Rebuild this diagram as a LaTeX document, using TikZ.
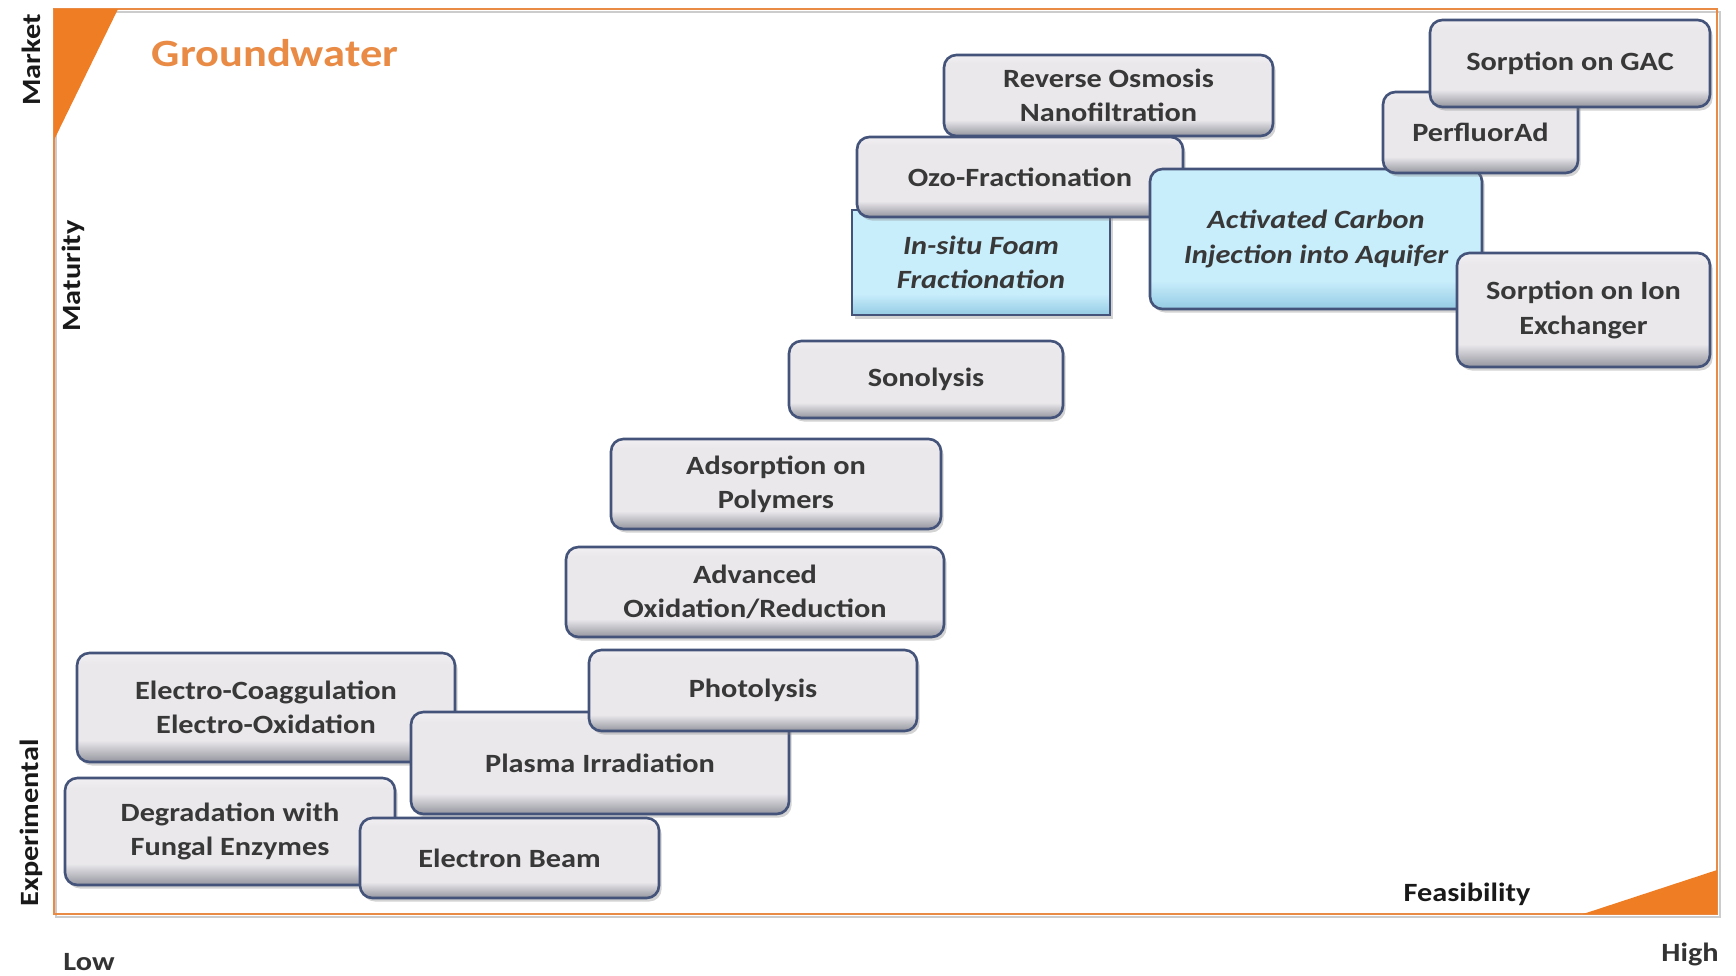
\documentclass[tikz,border=0pt]{standalone}
\usepackage{fontspec}
\setmainfont{Carlito}[FakeStretch=1.15]
\usetikzlibrary{shadows}

\definecolor{boxtop}{HTML}{EAE8EB}
\definecolor{boxbot}{HTML}{94959F}
\definecolor{boxhi}{HTML}{F1EFF1}
\definecolor{wettop}{HTML}{C8EDFB}
\definecolor{wetbot}{HTML}{94CBE4}
\definecolor{rim}{HTML}{44537A}
\definecolor{ink}{HTML}{383838}
\definecolor{frameorange}{HTML}{E98A45}
\definecolor{cornerorange}{HTML}{EE7D24}

\pgfdeclareverticalshading{techshade}{100bp}{color(0bp)=(boxbot); color(25bp)=(boxbot);
  color(35bp)=(boxtop); color(70bp)=(boxtop); color(75bp)=(boxhi); color(100bp)=(boxhi)}
\pgfdeclareverticalshading{wetshade}{100bp}{color(0bp)=(wetbot); color(25bp)=(wetbot);
  color(35bp)=(wettop); color(100bp)=(wettop)}

\begin{document}
\begin{tikzpicture}[x=0.02cm, y=-0.02cm,
    axislabel/.style={font=\fontsize{15}{18}\selectfont\bfseries, text=black!90},
    tech/.style={draw=rim, line width=1.5pt, rounded corners=7pt, shade, shading=techshade,
      drop shadow={shadow xshift=1.5pt, shadow yshift=-2pt, opacity=.35},
      align=center, text=ink, font=\fontsize{15}{19.5}\selectfont\bfseries},
    wet/.style={tech, shading=wetshade, font=\fontsize{15}{19.5}\selectfont\bfseries\itshape}]

  \useasboundingbox (0,0) rectangle (1736,975);

  % frame and corner marks
  \draw[black!20, line width=1.6pt] (56,12) rectangle (1720,917);
  \draw[frameorange, line width=1.6pt] (54,9) rectangle (1717,914);
  \fill[cornerorange] (54,9) -- (118,9) -- (54,140) -- cycle;
  \fill[cornerorange] (1583,914) -- (1717,914) -- (1717,870) -- cycle;

  % axis texts
  \begin{scope}[every node/.style={axislabel}]
    \node[rotate=90] (market) at (31,60) {Market};
    \node[rotate=90] (maturity) at (73,276) {Maturity};
    \node[rotate=90] (experimental) at (31,823) {Experimental};
    \node[text=black!80] (low) at (89,962) {Low};
    \node[text=black!80] (high) at (1690,954) {High};
    \node (feasibility) at (1467,894) {Feasibility};
  \end{scope}
  \node[font=\fontsize{22}{26}\selectfont\bfseries, text=frameorange] (title) at (275,53) {Groundwater};

  % technologies, back to front
  \node[tech, minimum width=6.58cm, minimum height=1.62cm] (ro) at (1108.5,95.5) {Reverse Osmosis\\Nanofiltration};
  \node[wet, rounded corners=0pt, minimum width=5.16cm, minimum height=2.10cm] (insitu) at (981,262.5) {In-situ Foam\\Fractionation};
  \node[tech, minimum width=6.52cm, minimum height=1.60cm] (ozo) at (1020,177) {Ozo-Fractionation};
  \node[wet, minimum width=6.64cm, minimum height=2.80cm] (acinj) at (1316,239) {Activated Carbon\\Injection into Aquifer};
  \node[tech, minimum width=3.90cm, minimum height=1.62cm] (perfluor) at (1480.5,132.5) {PerfluorAd};
  \node[tech, minimum width=5.60cm, minimum height=1.74cm] (gac) at (1570,63.5) {Sorption on GAC};
  \node[tech, minimum width=5.06cm, minimum height=2.28cm] (ionex) at (1583.5,310) {Sorption on Ion\\Exchanger};
  \node[tech, minimum width=5.48cm, minimum height=1.54cm] (sono) at (926,379.5) {Sonolysis};
  \node[tech, minimum width=6.60cm, minimum height=1.80cm] (polymer) at (776,484) {Adsorption on\\Polymers};
  \node[tech, minimum width=7.56cm, minimum height=1.80cm] (aor) at (755,592) {Advanced\\Oxidation/Reduction};
  \node[tech, minimum width=7.56cm, minimum height=2.18cm] (electro) at (266,707.5) {Electro-Coaggulation\\Electro-Oxidation};
  \node[tech, minimum width=7.56cm, minimum height=2.04cm] (plasma) at (600,763) {Plasma Irradiation};
  \node[tech, minimum width=6.56cm, minimum height=1.62cm] (photo) at (753,690.5) {Photolysis};
  \node[tech, minimum width=6.60cm, minimum height=2.14cm] (fungal) at (230,831.5) {Degradation with\\Fungal Enzymes};
  \node[tech, minimum width=5.98cm, minimum height=1.60cm] (ebeam) at (509.5,858) {Electron Beam};

\end{tikzpicture}
\end{document}
